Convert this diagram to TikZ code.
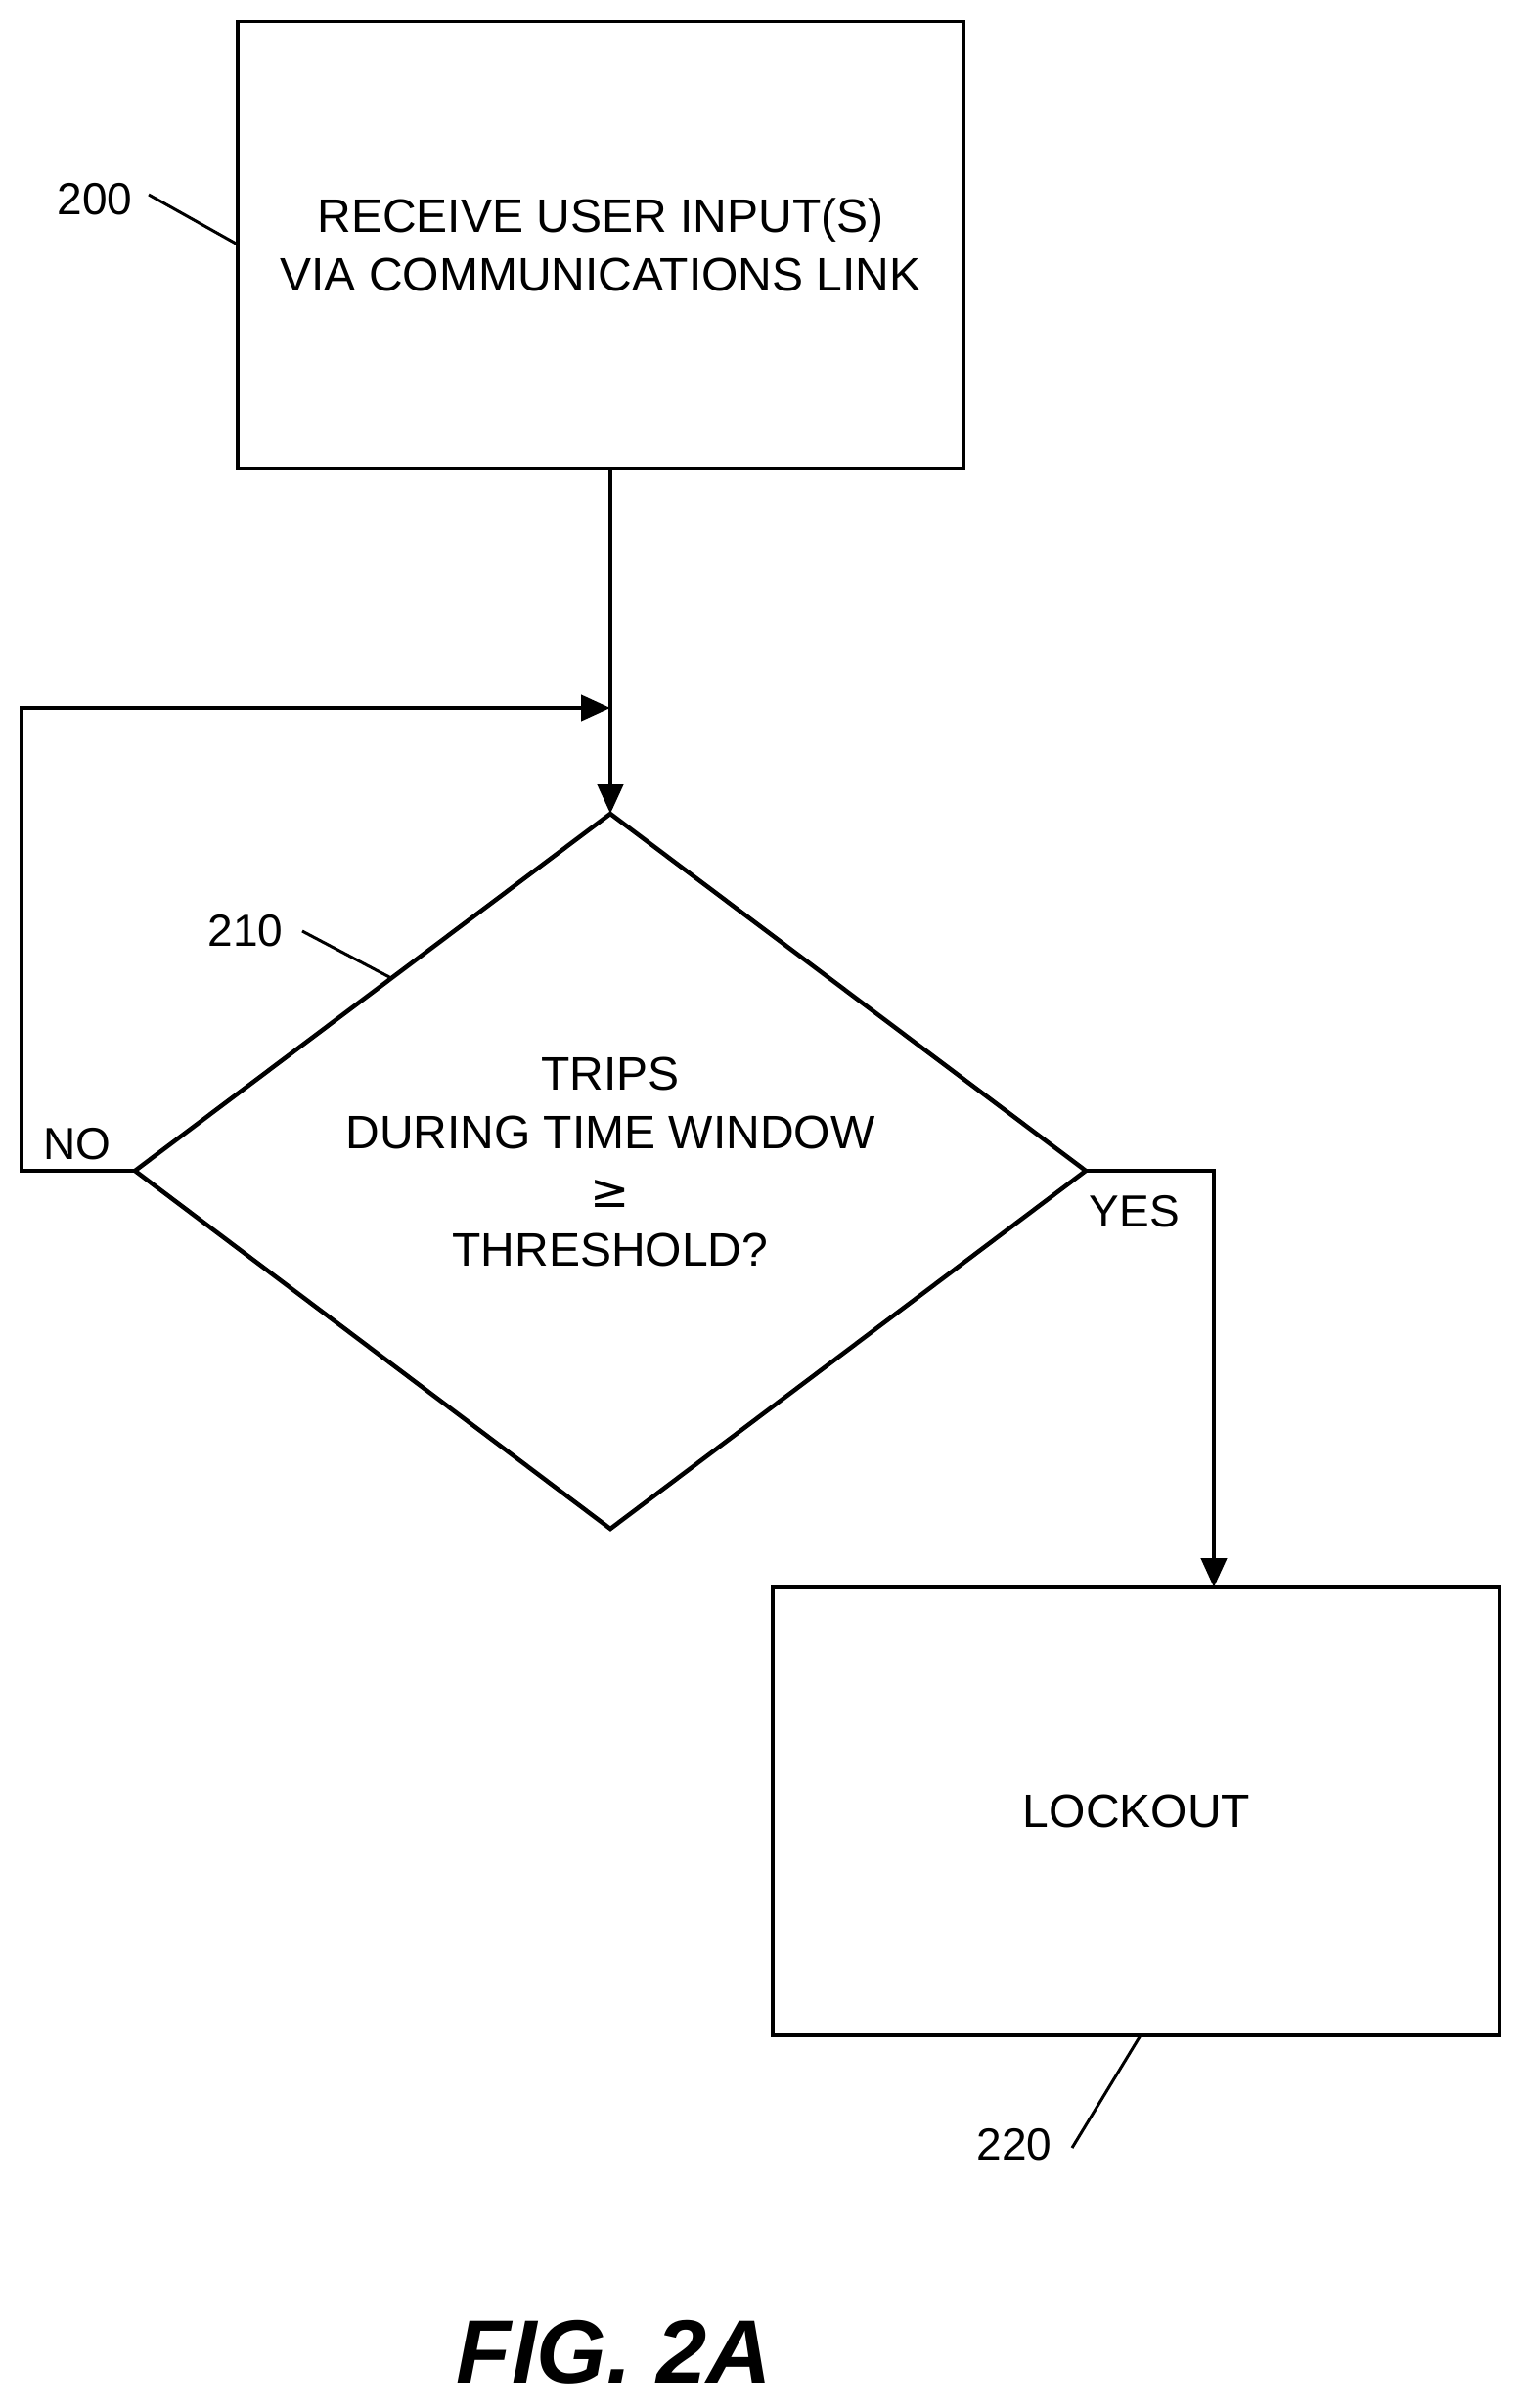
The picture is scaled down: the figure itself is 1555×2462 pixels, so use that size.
\documentclass[tikz,border=0pt]{standalone}
\usepackage{fontspec}
\setmainfont{Liberation Sans}
\newfontfamily\dv{DejaVu Sans}
\usetikzlibrary{arrows.meta}
\begin{document}
\begin{tikzpicture}[x=1pt,y=-1pt,
  line width=4.5pt,
  txt/.style={font=\fontsize{48}{60}\selectfont,align=center},
  lbl/.style={font=\fontsize{46}{54}\selectfont},
  arr/.style={-{Triangle[length=30pt,width=26pt]}}]
\useasboundingbox (0,0) rectangle (1555,2462);
% box 200
\draw (243,22) rectangle (985,479);
\node[txt] (t200) at (614,250) {RECEIVE USER INPUT(S)\\VIA COMMUNICATIONS LINK};
\coordinate (b200) at (624,479);
% diamond 210
\coordinate (top) at (624,832);
\coordinate (left) at (138,1197);
\coordinate (right) at (1110,1197);
\coordinate (bot) at (624,1563);
\draw (top) -- (right) -- (bot) -- (left) -- cycle;
\node[txt] (t210) at (624,1188) {TRIPS\\DURING TIME WINDOW\\{\dv ≥}\\THRESHOLD?};
% box 220
\draw (790,1623) rectangle (1533,2081);
\node[txt] (t220) at (1162,1852) {LOCKOUT};
\coordinate (top220) at (1241,1623);
% connectors
\coordinate (merge) at (624,724);
\draw[arr] (b200) -- (top);
\coordinate (l1) at (22,1197);
\coordinate (l2) at (22,724);
\draw[arr] (left) -- (l1) -- (l2) -- (merge);
\coordinate (r1) at (1241,1197);
\draw[arr] (right) -- (r1) -- (top220);
\node[lbl] (no) at (79,1170) {NO};
\node[lbl] (yes) at (1160,1239) {YES};
% reference labels
\node[lbl] (n200) at (97,204) {200};
\coordinate (c200) at (243,250);
\draw[line width=3pt] (152,199) -- (c200);
\node[lbl] (n210) at (251,952) {210};
\coordinate (c210) at (400,1000);
\draw[line width=3pt] (309,952) -- (c210);
\node[lbl] (n220) at (1037,2193) {220};
\coordinate (c220) at (1166,2081);
\draw[line width=3pt] (1096,2196) -- (c220);
\node[font=\bfseries\itshape\fontsize{92}{100}\selectfont] (fig) at (628,2405) {FIG. 2A};
\end{tikzpicture}
\end{document}
